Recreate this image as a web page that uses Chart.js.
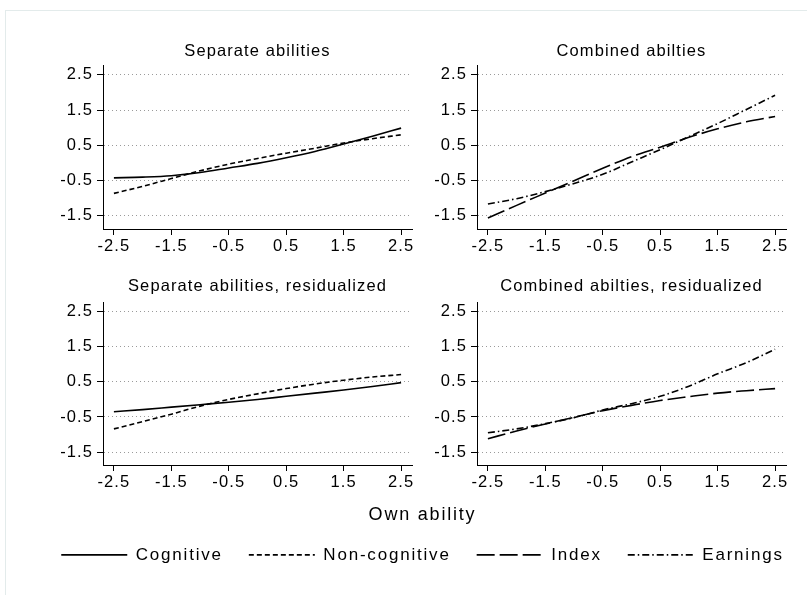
<!DOCTYPE html>
<html><head><meta charset="utf-8">
<script src="https://cdn.jsdelivr.net/npm/chart.js@4.4.1/dist/chart.umd.min.js"></script>
<style>
html,body{margin:0;padding:0;background:#fff;}
#wrap{position:relative;width:807px;height:595px;overflow:hidden;background:#fff;}
#frame{position:absolute;left:5px;top:10px;width:830px;height:620px;border:1px solid #e3ebeb;box-sizing:border-box;}
canvas{position:absolute;}
</style></head><body>
<div id="wrap">
<div id="frame"></div>
<canvas id="p1" width="420" height="262" style="left:0;top:0"></canvas>
<canvas id="p2" width="397" height="262" style="left:410px;top:0"></canvas>
<canvas id="p3" width="420" height="236" style="left:0;top:262px"></canvas>
<canvas id="p4" width="397" height="236" style="left:410px;top:262px"></canvas>
<canvas id="leg" width="845" height="97" style="left:0;top:498px"></canvas>
</div>
<script>
// ---- data ----
const ownAbility = [-2.5,-2,-1.5,-1,-0.5,0,0.5,1,1.5,2,2.5];
const xTickValues = [-2.5,-1.5,-0.5,0.5,1.5,2.5];
const yTickValues = [-1.5,-0.5,0.5,1.5,2.5];
const seriesNames = ['Cognitive','Non-cognitive','Index','Earnings'];
const panelTitles = ['Separate abilities','Combined abilties','Separate abilities, residualized','Combined abilties, residualized'];
const axisTitle = 'Own ability';

const sepCognitive = [-0.42,-0.40,-0.36,-0.27,-0.14,-0.01,0.15,0.33,0.54,0.76,0.99];
const sepNonCognitive = [-0.86,-0.66,-0.44,-0.22,-0.03,0.13,0.28,0.42,0.57,0.69,0.80];
const combIndex = [-1.56,-1.20,-0.85,-0.50,-0.15,0.18,0.45,0.73,0.97,1.17,1.32];
const combEarnings = [-1.16,-1.01,-0.81,-0.58,-0.32,0.03,0.38,0.75,1.12,1.52,1.92];
const resCognitive = [-0.35,-0.29,-0.22,-0.15,-0.08,0.00,0.09,0.18,0.27,0.37,0.48];
const resNonCognitive = [-0.84,-0.63,-0.42,-0.19,0.00,0.16,0.31,0.44,0.55,0.64,0.71];
const resIndex = [-1.12,-0.90,-0.70,-0.51,-0.32,-0.17,-0.03,0.08,0.18,0.25,0.31];
const resEarnings = [-0.95,-0.84,-0.69,-0.52,-0.30,-0.12,0.09,0.38,0.73,1.05,1.43];

// ---- styles ----
const FONT = "'Liberation Sans', Arial, sans-serif";
const dashes = {'Cognitive':[], 'Non-cognitive':[5,3], 'Index':[18,5], 'Earnings':[7,3,1.5,3]};
const LW = 1.6;

function spacingPlugin(px){
  return {
    id:'spacing',
    beforeLayout(chart){ chart.ctx.letterSpacing = px; },
    beforeDraw(chart){ chart.ctx.letterSpacing = px; }
  };
}

function ds(name, vals){
  return {
    label: name,
    data: ownAbility.map((x,i)=>({x:x, y:vals[i]})),
    borderColor:'#000', backgroundColor:'#000',
    borderWidth: LW, borderDash: dashes[name],
    pointRadius:0, cubicInterpolationMode:'monotone', fill:false
  };
}

function makePanel(id, title, datasets, yWidth, padRight, tPadTop, tPadBottom){
  return new Chart(document.getElementById(id), {
    type:'line',
    data:{datasets:datasets},
    plugins:[spacingPlugin('1.1px')],
    options:{
      responsive:false, animation:false, devicePixelRatio:1,
      layout:{padding:{left:0,right:padRight,top:0,bottom:0}},
      plugins:{
        legend:{display:false}, tooltip:{enabled:false},
        title:{display:true, text:title, color:'#000', fullSize:false,
          font:{family:FONT, size:16.5, weight:'normal', lineHeight:1.2},
          padding:{top:tPadTop, bottom:tPadBottom}}
      },
      scales:{
        x:{type:'linear', min:-2.69, max:2.69,
          afterBuildTicks:s=>{ s.ticks = xTickValues.map(v=>({value:v})); },
          afterFit:s=>{ s.height = 33; },
          ticks:{autoSkip:false, maxRotation:0, color:'#000', padding:2,
            font:{family:FONT, size:16.5}, callback:v=>v.toFixed(1)},
          grid:{drawOnChartArea:false, drawTicks:true, tickLength:6, tickColor:'#000', tickWidth:1},
          border:{display:true, color:'#000', width:1}
        },
        y:{type:'linear', min:-1.87, max:2.78,
          afterBuildTicks:s=>{ s.ticks = yTickValues.map(v=>({value:v})); },
          afterFit:s=>{ s.width = yWidth; },
          ticks:{autoSkip:false, color:'#000', padding:4,
            font:{family:FONT, size:16.5}, callback:v=>v.toFixed(1)},
          grid:{drawOnChartArea:true, drawTicks:true, tickLength:6, color:'#9a9a9a', lineWidth:1,
            tickColor:'#000', tickWidth:1, tickBorderDash:[]},
          border:{display:true, color:'#000', width:1, dash:[1,3]}
        }
      }
    }
  });
}

makePanel('p1', panelTitles[0], [ds('Cognitive',sepCognitive), ds('Non-cognitive',sepNonCognitive)], 103, 8, 42, 3.2);
makePanel('p2', panelTitles[1], [ds('Index',combIndex), ds('Earnings',combEarnings)], 67, 21, 42, 3.2);
makePanel('p3', panelTitles[2], [ds('Cognitive',resCognitive), ds('Non-cognitive',resNonCognitive)], 103, 8, 15, 5.2);
makePanel('p4', panelTitles[3], [ds('Index',resIndex), ds('Earnings',resEarnings)], 67, 21, 15, 5.2);

// legend + common axis title
new Chart(document.getElementById('leg'), {
  type:'line',
  data:{datasets: seriesNames.map(n=>({label:n, data:[], borderColor:'#000', backgroundColor:'#000', borderWidth:LW, borderDash:dashes[n]}))},
  plugins:[spacingPlugin('1.8px')],
  options:{
    responsive:false, animation:false, devicePixelRatio:1,
    layout:{padding:0},
    scales:{x:{display:false}, y:{display:false}},
    plugins:{
      tooltip:{enabled:false},
      title:{display:true, text:axisTitle, color:'#000',
        font:{family:FONT, size:18, weight:'normal', lineHeight:0.6},
        padding:{top:11.6, bottom:0}},
      legend:{display:true, position:'top',
        labels:{color:'#000', font:{family:FONT, size:17}, usePointStyle:true, pointStyle:'line',
          pointStyleWidth:66, padding:26,
          generateLabels:chart=>chart.data.datasets.map((d,i)=>({
            text:d.label, fillStyle:'#000', strokeStyle:'#000', fontColor:'#000',
            lineWidth:LW, lineDash:d.borderDash, lineCap:'butt', pointStyle:'line',
            hidden:false, datasetIndex:i
          }))}}
    }
  }
});
</script>
</body></html>
